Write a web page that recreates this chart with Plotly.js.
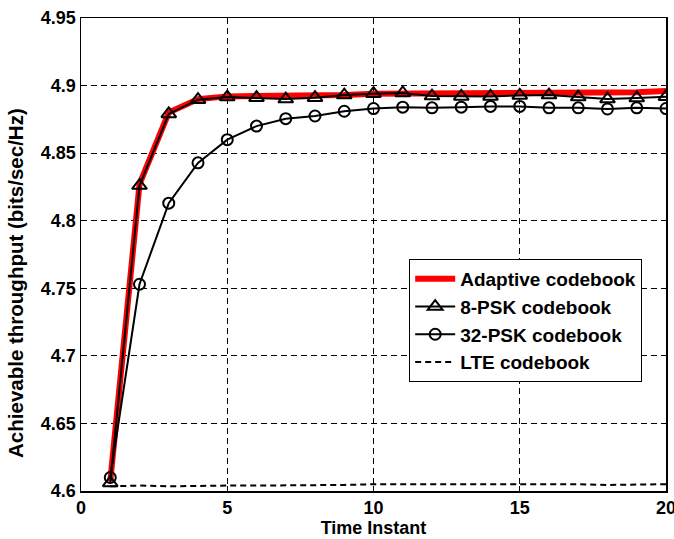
<!DOCTYPE html>
<html>
<head>
<meta charset="utf-8">
<script src="https://cdn.plot.ly/plotly-3.0.1.min.js"></script>
<style>
html,body{margin:0;padding:0;background:#fff;}
#chart{width:674px;height:539px;}
</style>
</head>
<body>
<div id="chart"></div>
<script>
var timeInstant = [1,2,3,4,5,6,7,8,9,10,11,12,13,14,15,16,17,18,19,20];
var adaptive = [4.607,4.827,4.880,4.890,4.892,4.892,4.892,4.892,4.893,4.894,4.894,4.894,4.894,4.894,4.894,4.894,4.894,4.894,4.895,4.896];
var psk8 = [4.606,4.826,4.879,4.8896,4.8915,4.891,4.890,4.891,4.893,4.894,4.8945,4.8922,4.892,4.892,4.8927,4.893,4.8915,4.890,4.8908,4.8918];
var psk32 = [4.610,4.753,4.813,4.8428,4.860,4.870,4.8755,4.8775,4.881,4.883,4.884,4.8835,4.884,4.8846,4.8846,4.8835,4.8835,4.8827,4.8835,4.883];
var lte = [4.6035,4.604,4.6035,4.604,4.604,4.604,4.604,4.604,4.6045,4.605,4.605,4.605,4.605,4.6055,4.605,4.6055,4.605,4.6045,4.6045,4.605];
var names = ['Adaptive codebook','8-PSK codebook','32-PSK codebook','LTE codebook'];
var xTicks = [0,5,10,15,20];
var yTicks = [4.6,4.65,4.7,4.75,4.8,4.85,4.9,4.95];
var yTickText = ['4.6','4.65','4.7','4.75','4.8','4.85','4.9','4.95'];
var xTitle = 'Time Instant';
var yTitle = 'Achievable throughput (bits/sec/Hz)';

var FONT = '"Liberation Sans", Arial, sans-serif';

var traces = [
  {x: timeInstant, y: adaptive, name: names[0], mode: 'lines',
   line: {color: '#ff0000', width: 6}},
  {x: timeInstant, y: psk8, name: names[1], mode: 'lines+markers',
   line: {color: '#000', width: 2},
   marker: {symbol: 'triangle-up-open', size: 13, color: '#000', line: {width: 2, color: '#000'}}},
  {x: timeInstant, y: psk32, name: names[2], mode: 'lines+markers',
   line: {color: '#000', width: 2},
   marker: {symbol: 'circle-open', size: 11, color: '#000', line: {width: 2, color: '#000'}}},
  {x: timeInstant, y: lte, name: names[3], mode: 'lines',
   line: {color: '#000', width: 2, dash: '6px,4px'}}
];

var axisCommon = {
  showline: true, linecolor: '#000', linewidth: 1.5, mirror: 'ticks',
  ticks: 'inside', ticklen: 5, tickcolor: '#000', tickwidth: 1,
  showgrid: true, gridcolor: '#000', gridwidth: 1, griddash: '6px,4px',
  zeroline: false, ticklabeloverflow: 'allow',
  tickfont: {family: FONT, size: 18, color: '#000', weight: 'bold'}
};

var layout = {
  width: 674, height: 539,
  margin: {l: 81, r: 8, t: 17.5, b: 47.5, pad: 0},
  paper_bgcolor: '#fff', plot_bgcolor: '#fff',
  showlegend: true,
  xaxis: Object.assign({}, axisCommon, {
    range: [0, 20], tickvals: xTicks, ticktext: xTicks.map(String),
    title: {text: xTitle, font: {family: FONT, size: 18, color: '#000', weight: 'bold'}, standoff: 2}
  }),
  yaxis: Object.assign({}, axisCommon, {
    range: [4.6, 4.95], tickvals: yTicks, ticktext: yTickText,
    title: {text: ''}
  }),
  annotations: [{
    text: yTitle, textangle: -90, showarrow: false,
    xref: 'paper', yref: 'paper',
    x: -65 / 585, y: (491.5 - 283) / 474, xanchor: 'center', yanchor: 'middle',
    font: {family: FONT, size: 20.5, color: '#000', weight: 'bold'}
  }],
  legend: {
    x: 0.561, y: 0.4905, xanchor: 'left', yanchor: 'top',
    bgcolor: '#fff', bordercolor: '#000', borderwidth: 1,
    font: {family: FONT, size: 19, color: '#000', weight: 'bold'},
    tracegroupgap: 0, itemwidth: 40
  }
};

Plotly.newPlot('chart', traces, layout, {displayModeBar: false, staticPlot: true});
</script>
</body>
</html>
